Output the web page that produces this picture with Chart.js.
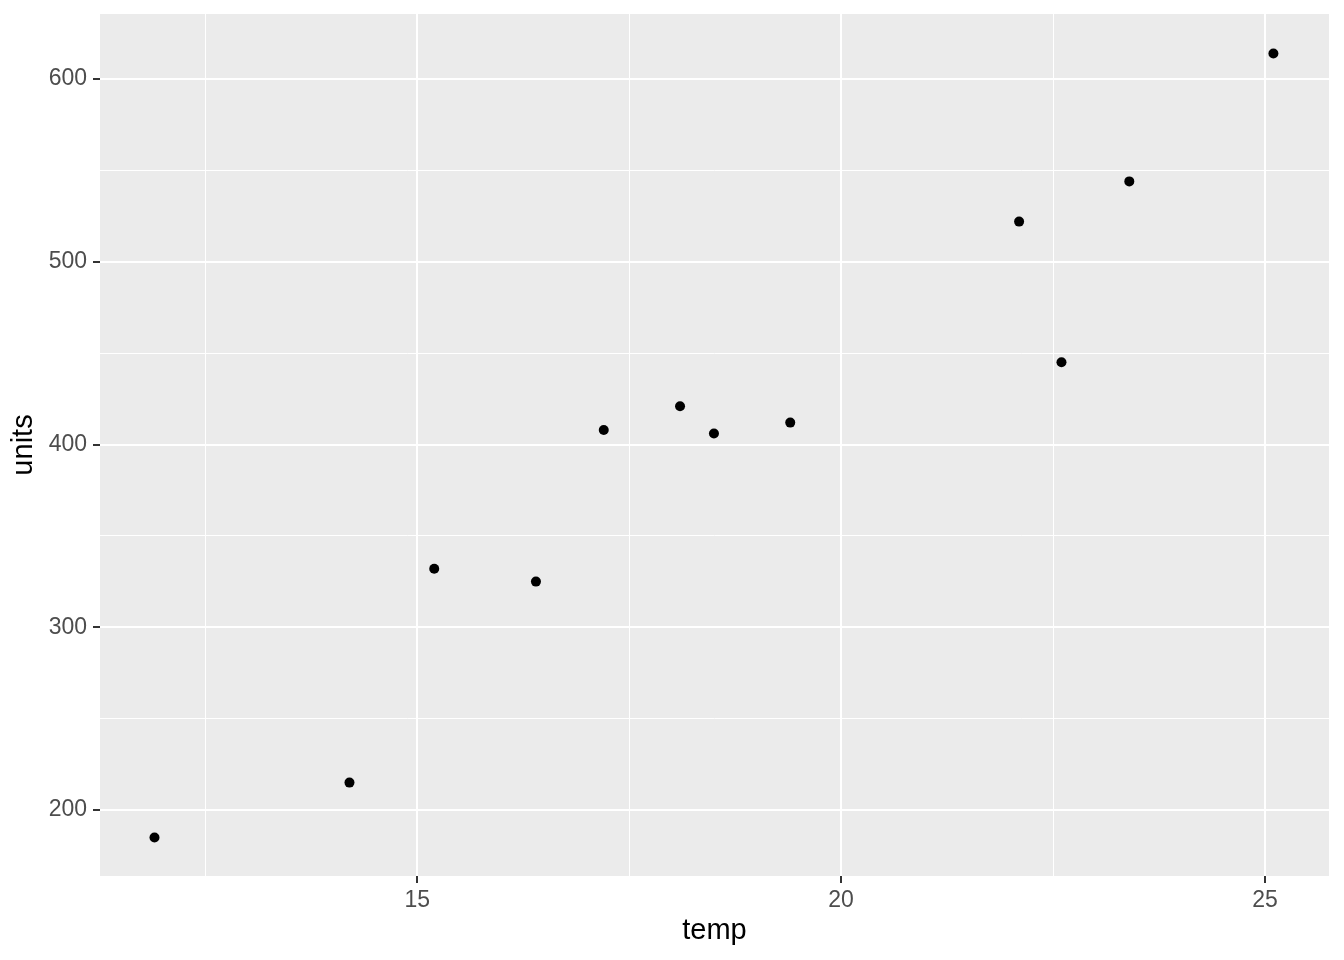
<!DOCTYPE html>
<html>
<head>
    <title>temp vs units</title>
    <script src="https://cdn.jsdelivr.net/npm/chart.js"></script>
    <style>
        body { margin: 0; background: #fff; }
        canvas { display: block; }
    </style>
</head>
<body>
<canvas id="scatter" width="1344" height="960"></canvas>

<script>
    // data
    const temp = [11.9, 14.2, 15.2, 16.4, 17.2, 18.1, 18.5, 19.4, 22.1, 22.6, 23.4, 25.1];
    const units = [185, 215, 332, 325, 408, 421, 406, 412, 522, 445, 544, 614];

    const xTicks = [12.5, 15, 17.5, 20, 22.5, 25];
    const xLabels = [15, 20, 25];
    const yTicks = [200, 250, 300, 350, 400, 450, 500, 550, 600];
    const yLabels = [200, 300, 400, 500, 600];

    const isMajor = (labels, v) => labels.includes(v);

    const panelBg = {
        id: 'panelBg',
        beforeDraw(chart) {
            const { ctx, chartArea: a } = chart;
            ctx.save();
            ctx.fillStyle = '#EBEBEB';
            ctx.fillRect(a.left, a.top, a.right - a.left, a.bottom - a.top);
            ctx.restore();
        }
    };

    function axisOpts(ticks, labels, title, padTitle, pad, min, max) {
        return {
            type: 'linear',
            min: min,
            max: max,
            afterBuildTicks: axis => { axis.ticks = ticks.map(v => ({ value: v })); },
            border: { display: false },
            grid: {
                color: '#FFFFFF',
                lineWidth: c => isMajor(labels, c.tick.value) ? 2 : 1,
                tickColor: c => isMajor(labels, c.tick.value) ? '#333333' : 'rgba(0,0,0,0)',
                tickWidth: 2,
                tickLength: 7
            },
            ticks: {
                autoSkip: false,
                maxRotation: 0,
                color: '#4D4D4D',
                font: { family: 'Liberation Sans, Arial, sans-serif', size: 23 },
                padding: pad,
                callback: v => isMajor(labels, v) ? String(v) : ''
            },
            title: {
                display: true,
                text: title,
                color: '#000000',
                font: { family: 'Liberation Sans, Arial, sans-serif', size: 29 },
                padding: padTitle
            }
        };
    }

    const xAxis = axisOpts(xTicks, xLabels, 'temp', { top: 0, bottom: 12 }, 4, 11.257, 25.756);
    xAxis.afterFit = axis => {
        axis.height = 84;
        axis.paddingLeft = 0;
        axis.paddingRight = 0;
    };
    const yAxis = axisOpts(yTicks, yLabels, 'units', { top: 7, bottom: 0 }, 6, 163.9, 635.6);
    yAxis.afterFit = axis => {
        axis.width = 100;
        axis.paddingTop = 0;
        axis.paddingBottom = 0;
    };

    new Chart(document.getElementById('scatter'), {
        type: 'scatter',
        data: {
            datasets: [{
                data: temp.map((t, i) => ({ x: t, y: units[i] })),
                backgroundColor: '#000000',
                borderWidth: 0,
                pointRadius: 5,
                pointHoverRadius: 5
            }]
        },
        options: {
            responsive: false,
            animation: false,
            layout: { padding: { top: 14, right: 15, left: 0, bottom: 0 } },
            plugins: {
                legend: { display: false },
                tooltip: { enabled: false }
            },
            scales: { x: xAxis, y: yAxis }
        },
        plugins: [panelBg]
    });
</script>
</body>
</html>
